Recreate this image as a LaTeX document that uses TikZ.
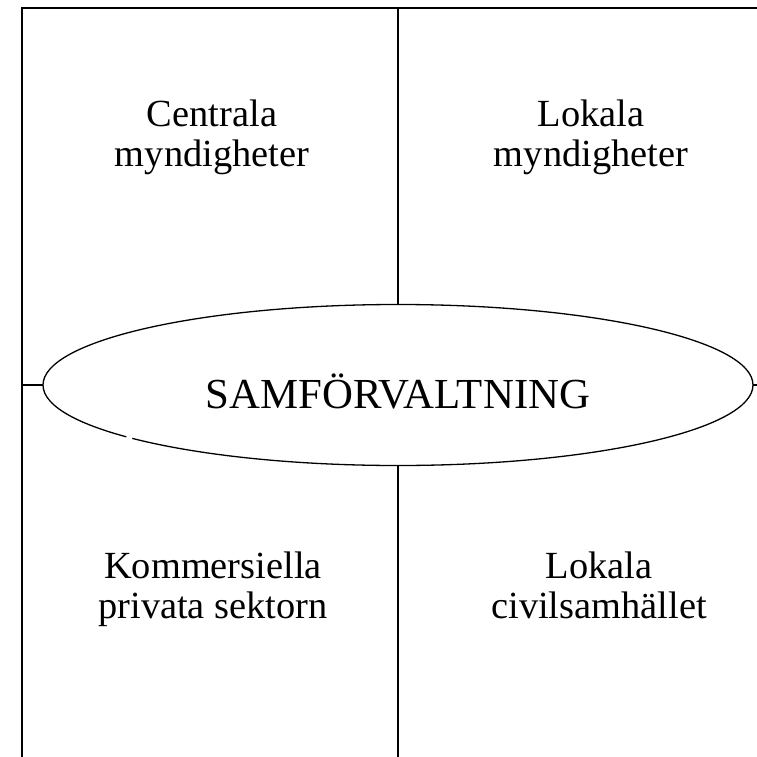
\documentclass[tikz,border=0pt]{standalone}
\usepackage{fontspec}
\setmainfont{Liberation Serif}
\usetikzlibrary{shapes.geometric}
\begin{document}
\begin{tikzpicture}[x=1pt,y=-1pt,
  frame/.style={line width=1.7pt},
  divider/.style={line width=1.3pt},
  quadlabel/.style={align=center,font=\fontsize{38.4}{40}\selectfont,inner sep=0pt,anchor=base},
  titlelabel/.style={font=\fontsize{42.8}{44}\selectfont,inner sep=0pt,anchor=base},
  hub/.style={draw,ellipse,line width=1.3pt,minimum width=710pt,minimum height=161pt,inner sep=0pt,outer sep=0pt}
]
\useasboundingbox (0,0) rectangle (756,757);
\node[hub] (e) at (398,385) {};
\coordinate (tl) at (22,8);
\coordinate (tr) at (760,8);
\coordinate (bl) at (22,760);
\coordinate (tm) at (398,8);
\coordinate (bm) at (398,760);
\coordinate (lm) at (22,385);
\coordinate (rm) at (760,385);
\draw[frame] (bl) -- (tl) -- (tr);
\draw[divider] (tm) -- (e.north);
\draw[divider] (e.south) -- (bm);
\draw[divider] (lm) -- (e.west);
\draw[divider] (e.east) -- (rm);
\draw[white,line width=2.6pt] (398,385) ++(139.9:355 and 80.5) arc[start angle=139.9,end angle=138.5,x radius=355,y radius=80.5];
\node[titlelabel] (t) at (398,408) {SAMFÖRVALTNING};
\node[quadlabel] (cm) at (212,166) {Centrala\\myndigheter};
\node[quadlabel] (lm2) at (591,166) {Lokala\\myndigheter};
\node[quadlabel] (kp) at (213,618) {Kommersiella\\privata sektorn};
\node[quadlabel] (lc) at (599,618) {Lokala\\civilsamhället};
\end{tikzpicture}
\end{document}
